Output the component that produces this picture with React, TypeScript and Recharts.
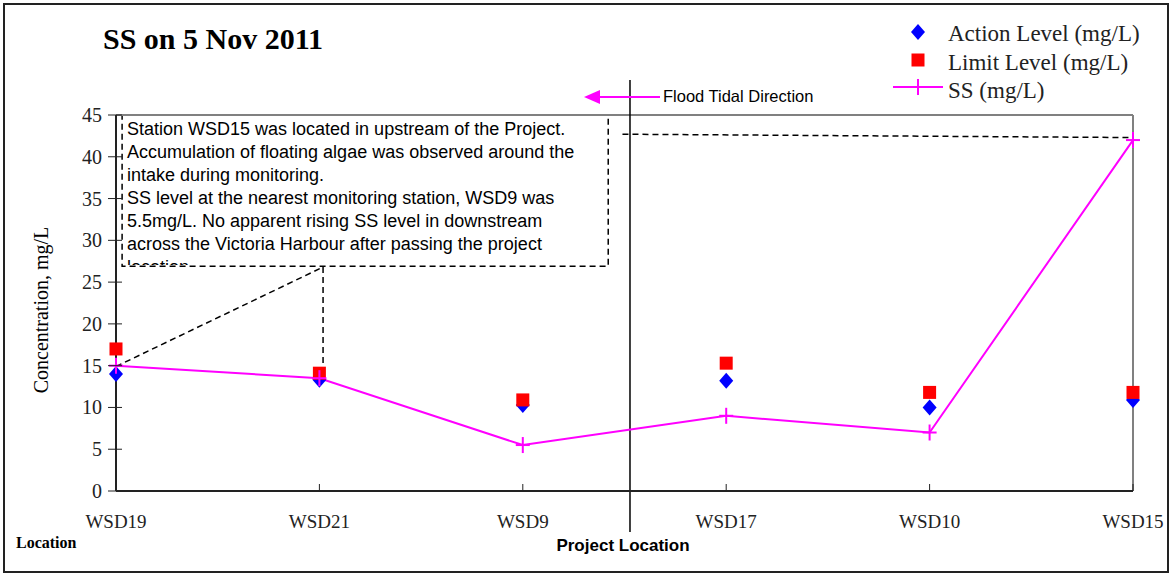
import React from "react";
import {
  ComposedChart,
  Line,
  Scatter,
  XAxis,
  YAxis,
  ReferenceLine,
  ReferenceArea,
} from "recharts";

const locations = ["WSD19", "WSD21", "WSD9", "WSD17", "WSD10", "WSD15"];
const ssValues = [15, 13.5, 5.5, 9, 7, 42];
const actionLevels = [14, 13.3, 10.3, 13.2, 10, 10.9];
const limitLevels = [17, 14.1, 10.9, 15.3, 11.8, 11.8];
const yTicks = [0, 5, 10, 15, 20, 25, 30, 35, 40, 45];

const noteLines = [
  "Station WSD15 was located in upstream of the Project.",
  "Accumulation of floating algae was observed around the",
  "intake during monitoring.",
  "SS level at the nearest monitoring station, WSD9 was",
  "5.5mg/L. No apparent rising SS level in downstream",
  "across the Victoria Harbour after passing the project",
  "location.",
];

const data = locations.map((name, i) => ({
  x: i,
  name,
  ss: ssValues[i],
  action: actionLevels[i],
  limit: limitLevels[i],
}));

const SERIF = "'Liberation Serif', 'Times New Roman', serif";
const SANS = "'Liberation Sans', Arial, sans-serif";
const W = 1173;
const H = 574;

const Diamond = (p: any) => {
  const { cx, cy } = p;
  if (cx == null || cy == null) return null;
  return <polygon points={`${cx},${cy - 8} ${cx + 7},${cy} ${cx},${cy + 8} ${cx - 7},${cy}`} fill="#0000ff" />;
};

const Square = (p: any) => {
  const { cx, cy } = p;
  if (cx == null || cy == null) return null;
  return <rect x={cx - 6.5} y={cy - 6.5} width={13} height={13} fill="#ff0000" />;
};

const PlusDot = (p: any) => {
  const { cx, cy, index } = p;
  if (cx == null || cy == null) return <g key={index} />;
  return (
    <g key={index}>
      <line x1={cx - 7} x2={cx + 7} y1={cy} y2={cy} stroke="#ff00ff" strokeWidth={2} />
      <line x1={cx} x2={cx} y1={cy - 8} y2={cy + 8} stroke="#ff00ff" strokeWidth={2} />
    </g>
  );
};

const XTick = (p: any) => {
  const { x, y, payload } = p;
  return (
    <g>
      <line x1={x} x2={x} y1={y} y2={y - 7} stroke="#222" strokeWidth={1} />
      <text x={x} y={y + 37} textAnchor="middle" fontFamily={SERIF} fontSize={19} fill="#222">
        {locations[payload.value]}
      </text>
    </g>
  );
};

const YTick = (p: any) => {
  const { x, y, payload } = p;
  return (
    <g>
      <line x1={x - 8} x2={x + 6} y1={y} y2={y} stroke="#222" strokeWidth={1} />
      <text x={x - 14} y={y + 7} textAnchor="end" fontFamily={SERIF} fontSize={20} fill="#222">
        {payload.value}
      </text>
    </g>
  );
};

function Overlay() {
  return (
    <svg
      width={W}
      height={H}
      style={{ position: "absolute", left: 0, top: 0, pointerEvents: "none" }}
    >
      <defs>
        <clipPath id="noteClip">
          <rect x={123} y={116} width={484} height={149} />
        </clipPath>
      </defs>
      <rect x={4} y={4} width={1164} height={568} fill="none" stroke="#222" strokeWidth={2} />
      <text x={103} y={49} fontFamily={SERIF} fontWeight="bold" fontSize={30} fill="#000">
        SS on 5 Nov 2011
      </text>

      {/* legend */}
      <polygon points="918,24 925,32 918,40 911,32" fill="#0000ff" />
      <text x={948} y={41} fontFamily={SERIF} fontSize={23} fill="#222">Action Level (mg/L)</text>
      <rect x={911.5} y={53.5} width={13} height={13} fill="#ff0000" />
      <text x={948} y={70} fontFamily={SERIF} fontSize={23} fill="#222">Limit Level (mg/L)</text>
      <line x1={893} x2={943} y1={87} y2={87} stroke="#ff00ff" strokeWidth={2} />
      <line x1={918} x2={918} y1={79} y2={95} stroke="#ff00ff" strokeWidth={2} />
      <text x={948} y={98} fontFamily={SERIF} fontSize={23} fill="#222">SS (mg/L)</text>

      {/* flood tide arrow */}
      <line x1={598} x2={660} y1={97} y2={97} stroke="#ff00ff" strokeWidth={2} />
      <polygon points="584,97 600,90 600,104" fill="#ff00ff" />
      <text x={663} y={102} fontFamily={SANS} fontSize={16.5} fill="#000">Flood Tidal Direction</text>

      {/* note text */}
      <g clipPath="url(#noteClip)">
        {noteLines.map((t, i) => (
          <text key={i} x={127} y={135 + i * 23} fontFamily={SANS} fontSize={18} fill="#000">
            {t}
          </text>
        ))}
      </g>

      <text
        transform="translate(48,310) rotate(-90)"
        textAnchor="middle"
        fontFamily={SERIF}
        fontSize={20}
        fill="#000"
      >
        Concentration, mg/L
      </text>
      <text x={16} y={548} fontFamily={SERIF} fontWeight="bold" fontSize={16} fill="#000">Location</text>
      <text x={623} y={551} textAnchor="middle" fontFamily={SANS} fontWeight="bold" fontSize={17} fill="#000">
        Project Location
      </text>
    </svg>
  );
}

export default function App() {
  return (
    <div style={{ position: "absolute", left: 0, top: 0, width: W, height: H, background: "#fff" }}>
      <ComposedChart width={W} height={H} data={data} margin={{ top: 115, right: 40, bottom: 0, left: 0 }}>
        <XAxis
          dataKey="x"
          type="number"
          domain={[0, 5]}
          ticks={[0, 1, 2, 3, 4, 5]}
          height={83}
          tickSize={0}
          tickMargin={0}
          tickLine={false}
          tick={<XTick />}
          axisLine={{ stroke: "#222", strokeWidth: 2 }}
        />
        <YAxis
          type="number"
          domain={[0, 45]}
          ticks={yTicks}
          width={116}
          tickSize={0}
          tickMargin={0}
          tickLine={false}
          tick={<YTick />}
          axisLine={{ stroke: "#222", strokeWidth: 2 }}
        />
        <ReferenceLine y={45} stroke="#808080" strokeWidth={2} />
        <ReferenceLine x={5} stroke="#808080" strokeWidth={2} />
        <ReferenceArea
          x1={0.03}
          x2={2.42}
          y1={26.9}
          y2={45}
          fill="#fff"
          fillOpacity={1}
          stroke="#000"
          strokeDasharray="6 4"
          strokeWidth={1.5}
          ifOverflow="visible"
        />
        <ReferenceLine
          segment={[{ x: 0, y: 14.9 }, { x: 1.018, y: 26.8 }]}
          stroke="#000"
          strokeDasharray="6 4"
          strokeWidth={1.5}
          ifOverflow="visible"
        />
        <ReferenceLine
          segment={[{ x: 1.018, y: 26.8 }, { x: 1.018, y: 14.2 }]}
          stroke="#000"
          strokeDasharray="6 4"
          strokeWidth={1.5}
          ifOverflow="visible"
        />
        <ReferenceLine
          segment={[{ x: 2.49, y: 42.7 }, { x: 5, y: 42.3 }]}
          stroke="#000"
          strokeDasharray="6 4"
          strokeWidth={1.5}
          ifOverflow="visible"
        />
        <ReferenceLine
          segment={[{ x: 2.527, y: -4.9 }, { x: 2.527, y: 49.2 }]}
          stroke="#000"
          strokeWidth={1.5}
          ifOverflow="visible"
        />
        <Scatter dataKey="action" shape={Diamond} isAnimationActive={false} />
        <Scatter dataKey="limit" shape={Square} isAnimationActive={false} />
        <Line
          dataKey="ss"
          stroke="#ff00ff"
          strokeWidth={2}
          dot={PlusDot}
          activeDot={false}
          isAnimationActive={false}
        />
      </ComposedChart>
      <Overlay />
    </div>
  );
}
